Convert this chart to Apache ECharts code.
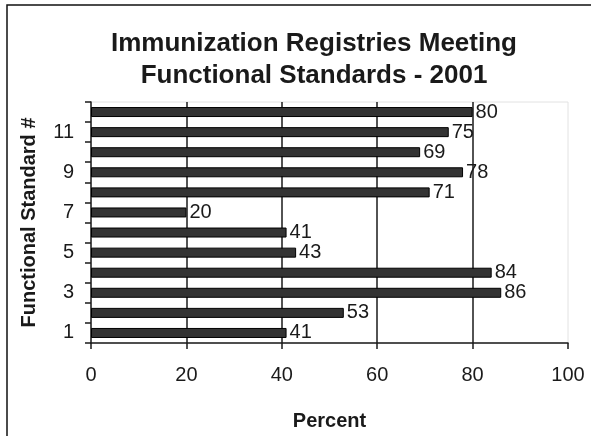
<!DOCTYPE html>
<html>
<head>
<meta charset="utf-8">
<script src="https://cdn.jsdelivr.net/npm/echarts@6/dist/echarts.min.js"></script>
<style>
  html, body { margin: 0; padding: 0; background: #fff; }
  #chart { width: 591px; height: 436px; }
</style>
</head>
<body>
<div id="chart"></div>
<script>
// functional standard numbers, bottom to top
const standards = ['1', '2', '3', '4', '5', '6', '7', '8', '9', '10', '11', '12']
// percent of registries meeting each standard
const percents = [41, 53, 86, 84, 43, 41, 20, 71, 78, 69, 75, 80]
const xTicks = [0, 20, 40, 60, 80, 100]

const font = 'Arial, "Liberation Sans", sans-serif'

const chart = echarts.init(document.getElementById('chart'))
chart.setOption({
  animation: false,
  backgroundColor: '#fff',
  title: {
    text: 'Immunization Registries Meeting\nFunctional Standards - 2001',
    left: 309,
    top: 23,
    textAlign: 'center',
    textStyle: {
      fontFamily: font,
      fontSize: 26,
      fontWeight: 'bold',
      color: '#1a1a1a',
      lineHeight: 32
    }
  },
  graphic: [
    {
      type: 'rect',
      shape: { x: 7, y: 5, width: 620, height: 460 },
      style: { fill: 'none', stroke: '#111', lineWidth: 1.5 },
      silent: true
    }
  ],
  grid: {
    left: 91,
    right: 23,
    top: 102,
    bottom: 82,
    show: true,
    borderColor: '#e2e2e2',
    borderWidth: 1
  },
  xAxis: {
    type: 'value',
    min: xTicks[0],
    max: xTicks[xTicks.length - 1],
    interval: 20,
    name: 'Percent',
    nameLocation: 'middle',
    nameGap: 68,
    nameTextStyle: { fontFamily: font, fontSize: 20, fontWeight: 'bold', color: '#1a1a1a' },
    axisLine: { show: true, lineStyle: { color: '#1a1a1a', width: 1.5 } },
    axisTick: { show: true, length: 6, lineStyle: { color: '#1a1a1a', width: 1.5 } },
    axisLabel: { fontFamily: font, fontSize: 20, color: '#1a1a1a', margin: 22 },
    splitLine: {
      show: true,
      showMinLine: false,
      showMaxLine: false,
      lineStyle: { color: '#1a1a1a', width: 1.5 }
    }
  },
  yAxis: {
    type: 'category',
    data: standards,
    boundaryGap: true,
    name: 'Functional Standard #',
    nameLocation: 'middle',
    nameGap: 52,
    nameTextStyle: { fontFamily: font, fontSize: 20, fontWeight: 'bold', color: '#1a1a1a' },
    axisLine: { show: true, lineStyle: { color: '#1a1a1a', width: 1.5 } },
    axisTick: { show: true, interval: 0, length: 6, alignWithLabel: false, lineStyle: { color: '#1a1a1a', width: 1.5 } },
    axisLabel: { interval: 1, fontFamily: font, fontSize: 20, color: '#1a1a1a', margin: 17 },
    splitLine: { show: false }
  },
  series: [
    {
      type: 'bar',
      data: percents,
      barWidth: 10,
      itemStyle: { color: '#333333', borderColor: '#000', borderWidth: 1 },
      label: {
        show: true,
        position: 'right',
        distance: 3,
        fontFamily: font,
        fontSize: 20,
        color: '#1a1a1a'
      }
    }
  ]
})
</script>
</body>
</html>
